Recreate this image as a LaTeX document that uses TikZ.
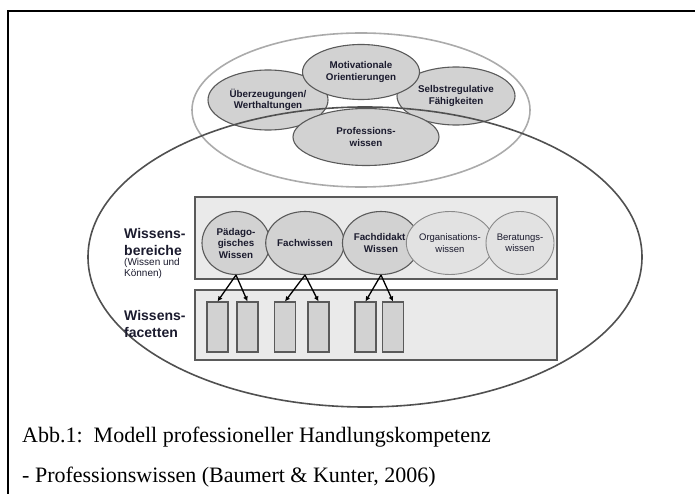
\documentclass[tikz,border=0pt]{standalone}
\usepackage{fontspec}
\setmainfont{Liberation Serif}
\newfontfamily\diagfont{Liberation Sans}
\usetikzlibrary{shapes.geometric}
\usetikzlibrary{arrows.meta}
\definecolor{ringGray}{HTML}{ABABAB}
\definecolor{outerGray}{HTML}{505050}
\definecolor{edgeGray}{HTML}{5A5A5A}
\definecolor{ovalGray}{HTML}{D2D2D2}
\definecolor{boxGray}{HTML}{EAEAEA}
\definecolor{paleFill}{HTML}{E2E2E2}
\definecolor{paleEdge}{HTML}{8A8A8A}
\definecolor{inkDark}{HTML}{1B1B2E}
\begin{document}
\begin{tikzpicture}
[x=1pt,y=-1pt,
  ovalDecorate/.style={ellipse,draw=edgeGray,fill=ovalGray,line width=1.1pt,inner sep=0pt,
    align=center,text=inkDark,font=\diagfont\bfseries\fontsize{9.8}{11.5}\selectfont},
  paleOval/.style={ovalDecorate,draw=paleEdge,fill=paleFill,line width=0.9pt,
    font=\diagfont\fontsize{9.5}{11.5}\selectfont},
  boxDecorate/.style={draw=edgeGray,fill=boxGray,line width=1.1pt},
  facetDecorate/.style={rectangle,draw=edgeGray,fill=ovalGray,line width=1.1pt,
    minimum width=21pt,minimum height=50pt,inner sep=0pt},
  lineDecorate/.style={-{Latex[length=5pt,width=5pt]},line width=1.3pt,draw=black},
  labelDecorate/.style={anchor=base west,inner sep=0pt,align=left,text=inkDark}]
\useasboundingbox (0,0) rectangle (695,494);
%% frame
\draw[line width=2pt] (8,494) -- (8,11) -- (695,11);
%% upper ring with its ovals
\draw[ringGray,line width=1.6pt] (361,110) ellipse [x radius=169, y radius=77];
\node[ovalDecorate,minimum width=120pt,minimum height=60pt] (belief) at (268,100) {Überzeugungen/\\Werthaltungen};
\node[ovalDecorate,minimum width=118pt,minimum height=58pt] (selfreg) at (456,96) {Selbstregulative\\Fähigkeiten};
\node[ovalDecorate,minimum width=117pt,minimum height=55pt] (motiv) at (361,72) {Motivationale\\Orientierungen};
\draw[outerGray,line width=1.6pt] (365,257) ellipse [x radius=277, y radius=150];
\node[ovalDecorate,minimum width=146pt,minimum height=57pt] (profession) at (366,137) {Professions-\\wissen};
%% boxes
\draw[boxDecorate] (195,197) rectangle (557,279);
\draw[boxDecorate] (195,290) rectangle (557,360);
%% knowledge areas
\foreach \nodename/\code/\x/\kind in {
  paed/{Pädago-\\gisches\\Wissen}/236/ovalDecorate, fach/Fachwissen/305/ovalDecorate,
  fdid/{Fachdidakt.\\Wissen}/381/ovalDecorate, orga/{Organisations-\\wissen}/450/paleOval,
  bera/{Beratungs-\\wissen}/520/paleOval}
{
  \node[\kind,minimum width=68pt,minimum height=63pt] (\nodename) at (\x,243) {\code};
}
%% facets
\foreach \nodename/\x in {f1/217.5, f2/247.5, f3/285, f4/318.5, f5/365.5, f6/393}
{
  \node[facetDecorate] (\nodename) at (\x,327) {};
}
%% arrows
\path
\foreach \startnode/\endnode in {
  paed/f1, paed/f2, fach/f3, fach/f4, fdid/f5, fdid/f6}
{
  (\startnode.south) edge[lineDecorate] (\endnode.north)
};
%% labels (base = last line)
\node[labelDecorate,font=\diagfont\bfseries\fontsize{14}{17}\selectfont] (areaLabel) at (124,255) {Wissens-\\bereiche};
\node[labelDecorate,font=\diagfont\fontsize{10}{11}\selectfont] (areaNote) at (124,276) {(Wissen und\\Können)};
\node[labelDecorate,font=\diagfont\bfseries\fontsize{14}{17}\selectfont] (facetLabel) at (124,337) {Wissens-\\facetten};
\node[labelDecorate,text=black,font=\fontsize{22}{40}\selectfont] (caption) at (22,482)
  {Abb.1:\ \ Modell professioneller Handlungskompetenz\\- Professionswissen (Baumert \& Kunter, 2006)};
\end{tikzpicture}
\end{document}
